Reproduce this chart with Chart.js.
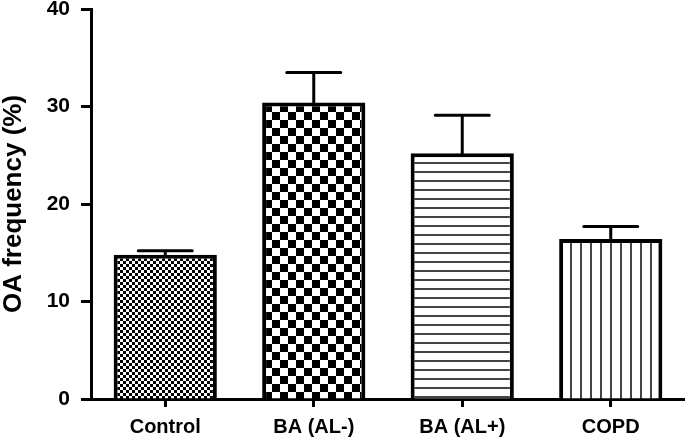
<!DOCTYPE html>
<html>
<head>
<meta charset="utf-8">
<script src="https://cdn.jsdelivr.net/npm/chart.js@4.4.1/dist/chart.umd.min.js"></script>
<style>
  html, body { margin: 0; padding: 0; background: #fff; }
  #wrap { width: 685px; height: 442px; }
</style>
</head>
<body>
<div id="wrap"><canvas id="chart" width="685" height="442"></canvas></div>
<script>
// data
const groups = ['Control', 'BA (AL-)', 'BA (AL+)', 'COPD'];
const oaFreq = [14.8, 30.4, 25.2, 16.4];
const oaErr = [0.4, 3.1, 3.9, 1.3];
const yTicks = [0, 10, 20, 30, 40];

const FONT = '"Liberation Sans", Arial, sans-serif';

// fill patterns for each bar
function makePattern(w, h, draw) {
    const c = document.createElement('canvas');
    c.width = w;
    c.height = h;
    const g = c.getContext('2d');
    g.fillStyle = '#fff';
    g.fillRect(0, 0, w, h);
    draw(g);
    return document.getElementById('chart').getContext('2d').createPattern(c, 'repeat');
}

const fineChecker = makePattern(6, 6, g => {
    g.fillStyle = '#000';
    g.fillRect(0, 0, 3, 3);
    g.fillRect(3, 3, 3, 3);
});
const coarseChecker = makePattern(16, 16, g => {
    g.fillStyle = '#000';
    g.fillRect(0, 0, 8, 8);
    g.fillRect(8, 8, 8, 8);
});
const hLines = makePattern(9, 9, g => {
    g.fillStyle = '#444';
    g.fillRect(0, 0, 9, 2);
});
const vLines = makePattern(10, 10, g => {
    g.fillStyle = '#444';
    g.fillRect(0, 0, 2, 10);
});

// upper error bars (SEM)
const errorBars = {
    id: 'errorBars',
    afterDatasetsDraw(chart) {
        const ctx = chart.ctx;
        const meta = chart.getDatasetMeta(0);
        const y = chart.scales.y;
        ctx.save();
        ctx.strokeStyle = '#000';
        ctx.lineWidth = 3;
        ctx.lineCap = 'round';
        meta.data.forEach((bar, i) => {
            const yBar = y.getPixelForValue(oaFreq[i]);
            const yTop = y.getPixelForValue(oaFreq[i] + oaErr[i]);
            ctx.beginPath();
            ctx.moveTo(bar.x, yBar);
            ctx.lineTo(bar.x, yTop);
            ctx.moveTo(bar.x - 27, yTop);
            ctx.lineTo(bar.x + 27, yTop);
            ctx.stroke();
        });
        ctx.restore();
    }
};

new Chart(document.getElementById('chart'), {
    type: 'bar',
    data: {
        labels: groups,
        datasets: [{
            data: oaFreq,
            backgroundColor: [fineChecker, coarseChecker, hLines, vLines],
            borderColor: '#000',
            borderWidth: 4,
            categoryPercentage: 1,
            barPercentage: 0.695
        }]
    },
    options: {
        responsive: false,
        animation: false,
        layout: { padding: { top: 9, right: 0, left: 0, bottom: 0 } },
        plugins: {
            legend: { display: false },
            tooltip: { enabled: false }
        },
        scales: {
            x: {
                grid: {
                    offset: false,
                    drawOnChartArea: false,
                    drawTicks: true,
                    tickLength: 8,
                    tickWidth: 3,
                    tickColor: '#000'
                },
                border: { display: true, width: 3, color: '#000' },
                ticks: {
                    color: '#000',
                    padding: 8,
                    font: { family: FONT, size: 20, weight: 'bold' }
                },
                afterFit(scale) {
                    scale.height = 43;
                    scale.paddingLeft = 0;
                    scale.paddingRight = 0;
                }
            },
            y: {
                min: 0,
                max: 40,
                afterBuildTicks(scale) {
                    scale.ticks = yTicks.map(v => ({ value: v }));
                },
                grid: {
                    drawOnChartArea: false,
                    drawTicks: true,
                    tickLength: 10,
                    tickWidth: 3,
                    tickColor: '#000'
                },
                border: { display: true, width: 3, color: '#000' },
                ticks: {
                    color: '#000',
                    padding: 11,
                    font: { family: FONT, size: 21, weight: 'bold' }
                },
                title: {
                    display: true,
                    text: 'OA frequency (%)',
                    color: '#000',
                    padding: 0,
                    font: { family: FONT, size: 26, weight: 'bold', lineHeight: 1.05 }
                },
                afterFit(scale) {
                    scale.width = 91;
                    scale.paddingTop = 0;
                    scale.paddingBottom = 0;
                }
            }
        }
    },
    plugins: [errorBars]
});
</script>
</body>
</html>
